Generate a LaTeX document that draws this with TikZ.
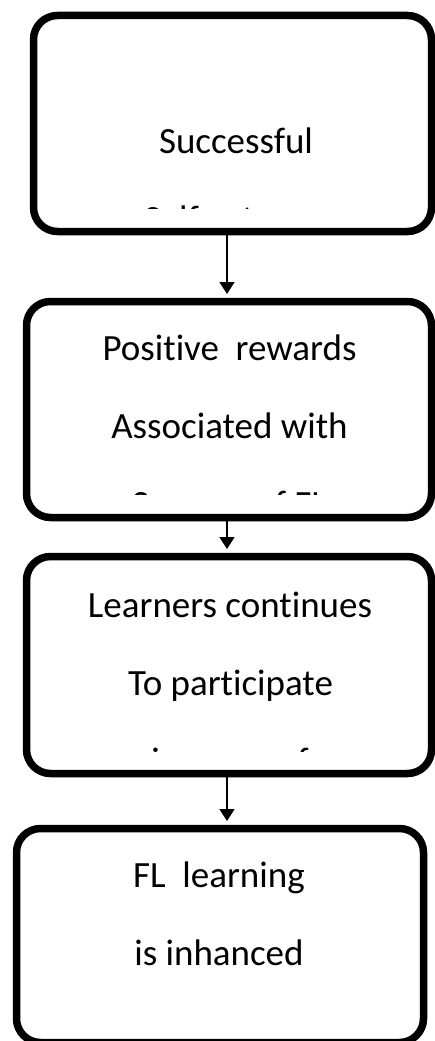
\documentclass[tikz,border=0pt]{standalone}
\usepackage{fontspec}
\setmainfont{Carlito}[RawFeature={-liga}]
\usetikzlibrary{arrows.meta}
\begin{document}
\begin{tikzpicture}[x=1pt,y=-1pt,
  box/.style={draw=black,line width=7.5pt,rounded corners=24pt,inner sep=0pt,fill=none},
  txt/.style={anchor=base,inner sep=0pt,font=\fontsize{37}{44}\selectfont},
  arr/.style={draw=black,line width=1.6pt,-{Triangle[width=15pt,length=12pt]},shorten >=3.75pt}]
\useasboundingbox (0,0) rectangle (435,1041);
% boxes
\node[box,minimum width=398pt,minimum height=216pt] (b1) at (232.5,123.5) {};
\node[box,minimum width=405pt,minimum height=216pt] (b2) at (229,409.5) {};
\node[box,minimum width=405pt,minimum height=217pt] (b3) at (229,665) {};
\node[box,minimum width=407pt,minimum height=214pt] (b4) at (220,935.5) {};
% texts
\node[txt] (t1a) at (236,153) {Successful};
\begin{scope}
  \clip (40,180) rectangle (425,208.5);
  \node[txt] (t1b) at (232,231) {Self-esteem};
\end{scope}
\node[txt] (t2a) at (229.5,360) {Positive\ \ rewards};
\node[txt] (t2b) at (229.5,438) {Associated with};
\begin{scope}
  \clip (40,470) rectangle (425,494);
  \node[txt] (t2c) at (229.5,516) {Success of FL};
\end{scope}
\node[txt] (t3a) at (230,617) {Learners continues};
\node[txt] (t3b) at (230.5,695) {To participate};
\begin{scope}
  \clip (40,730) rectangle (425,751.5);
  \node[txt] (t3c) at (230,773) {in some of};
\end{scope}
\node[txt] (t4a) at (219,887) {FL\ \ learning};
\node[txt] (t4b) at (219,965) {is inhanced};
% connectors
\coordinate (ax) at (227,0);
\draw[arr] (b1.south -| ax) -- (b2.north -| ax);
\draw[arr] (b2.south -| ax) -- (b3.north -| ax);
\draw[arr] (b3.south -| ax) -- (b4.north -| ax);
\end{tikzpicture}
\end{document}
